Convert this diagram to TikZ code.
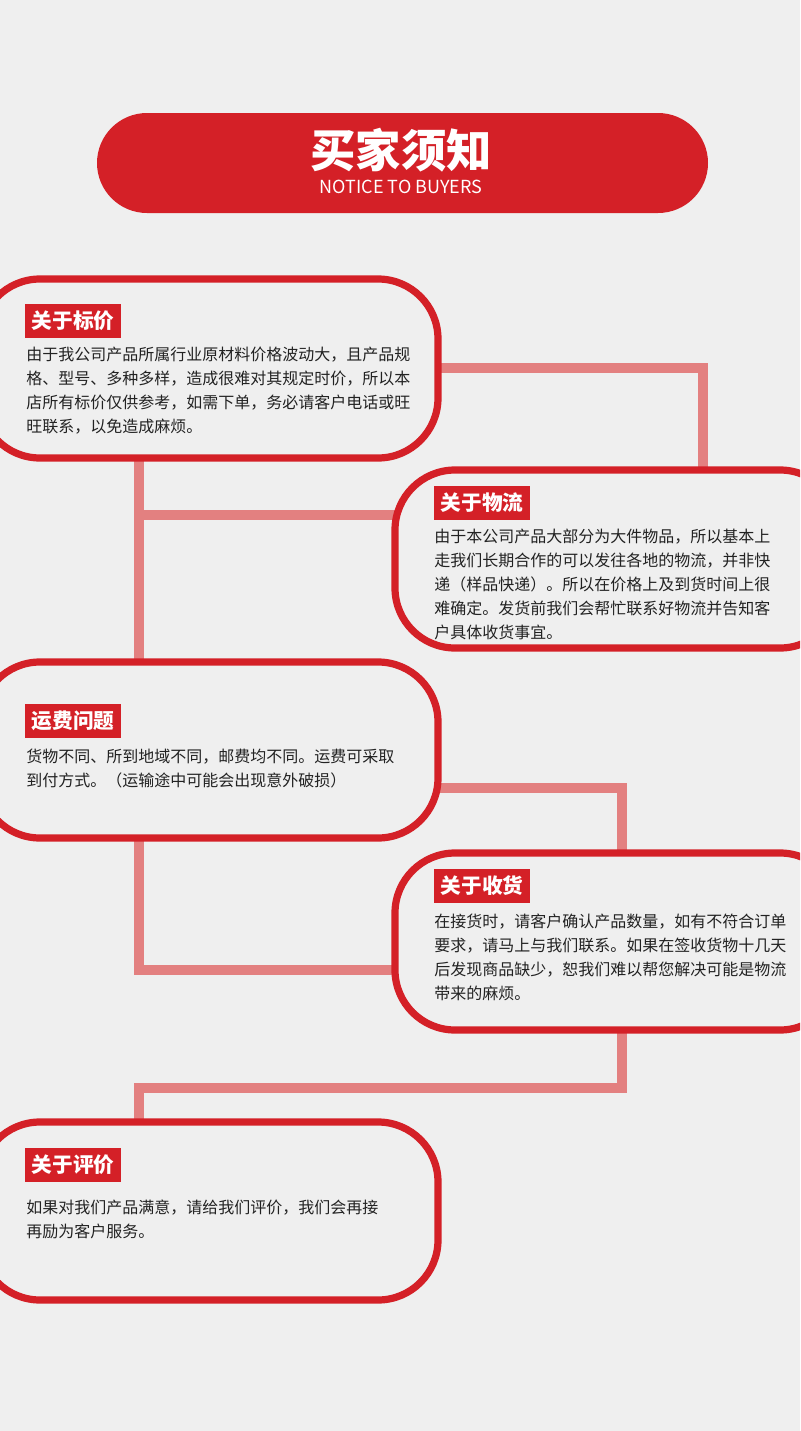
\documentclass[tikz,border=0pt]{standalone}
\usepackage{fontspec}
\setmainfont{Noto Sans CJK SC}
\newfontfamily\cjk{Noto Sans CJK SC}
\definecolor{bg}{HTML}{EFEFEF}
\definecolor{rd}{HTML}{D42027}
\definecolor{pk}{HTML}{E38080}
\definecolor{tx}{HTML}{222222}
\tikzset{
 px/.style={x=0.75pt,y=-0.75pt},
 card/.style={draw=rd,fill=bg,line width=5.4pt,rounded corners=45pt,inner sep=0pt},
 conn/.style={draw=pk,line width=7.5pt},
 tag/.style={fill=rd,text=white,font=\cjk\bfseries\fontsize{15.5}{17}\selectfont,anchor=west,minimum height=25.5pt,inner xsep=5pt},
 body/.style={text=tx,font=\cjk\fontsize{12}{18}\selectfont,anchor=north west,align=left,inner sep=0pt}
}
\begin{document}
\begin{tikzpicture}[px]
\fill[bg] (0,0) rectangle (800,1431);
\useasboundingbox (0,0) rectangle (800,1431);
\begin{scope}
\clip (0,0) rectangle (800,1431);
\coordinate (c1) at (703,368);
\coordinate (c2) at (139,515);
\coordinate (c3) at (622,788);
\coordinate (c4) at (139,970);
\coordinate (c5) at (622,1088);
\coordinate (c6) at (139,1088);
\draw[conn] (438,368) -- (c1) -- (703,475);
\draw[conn] (139,455) -- (c2) -- (400,515);
\draw[conn] (c2) -- (139,665);
\draw[conn] (435,788) -- (c3) -- (622,858);
\draw[conn] (139,835) -- (c4) -- (400,970);
\draw[conn] (622,1025) -- (c5) -- (c6) -- (139,1125);
\node[card,minimum width=458*0.75pt,minimum height=179*0.75pt] (b1) at (209,368.5) {};
\node[card,minimum width=445*0.75pt,minimum height=178*0.75pt] (b2) at (617.5,559) {};
\node[card,minimum width=458*0.75pt,minimum height=176*0.75pt] (b3) at (209,750) {};
\node[card,minimum width=445*0.75pt,minimum height=177*0.75pt] (b4) at (617.5,941.5) {};
\node[card,minimum width=458*0.75pt,minimum height=178*0.75pt] (b5) at (209,1211) {};
\end{scope}
\node[fill=rd,rounded corners=37.5pt,minimum width=611*0.75pt,minimum height=100*0.75pt] (hd) at (402.5,163) {};
\node[text=white,font=\cjk\bfseries\fontsize{34}{36}\selectfont] (t1) at (401,150) {买家须知};
\node[text=white,font=\cjk\fontsize{13.5}{14}\selectfont] (t2) at (401,187) {NOTICE TO BUYERS};
\node[tag] (l1) at (25,321) {关于标价};
\node[body] (x1) at (26,347) {由于我公司产品所属行业原材料价格波动大，且产品规\\格、型号、多种多样，造成很难对其规定时价，所以本\\店所有标价仅供参考，如需下单，务必请客户电话或旺\\旺联系，以免造成麻烦。};
\node[tag] (l2) at (434,503) {关于物流};
\node[body] (x2) at (434,529) {由于本公司产品大部分为大件物品，所以基本上\\走我们长期合作的可以发往各地的物流，并非快\\递（样品快递）。所以在价格上及到货时间上很\\难确定。发货前我们会帮忙联系好物流并告知客\\户具体收货事宜。};
\node[tag] (l3) at (25,721) {运费问题};
\node[body] (x3) at (26,749) {货物不同、所到地域不同，邮费均不同。运费可采取\\到付方式。（运输途中可能会出现意外破损）};
\node[tag] (l4) at (434,886) {关于收货};
\node[body] (x4) at (434,914) {在接货时，请客户确认产品数量，如有不符合订单\\要求，请马上与我们联系。如果在签收货物十几天\\后发现商品缺少，恕我们难以帮您解决可能是物流\\带来的麻烦。};
\node[tag] (l5) at (25,1165) {关于评价};
\node[body] (x5) at (26,1200) {如果对我们产品满意，请给我们评价，我们会再接\\再励为客户服务。};
\end{tikzpicture}
\end{document}
